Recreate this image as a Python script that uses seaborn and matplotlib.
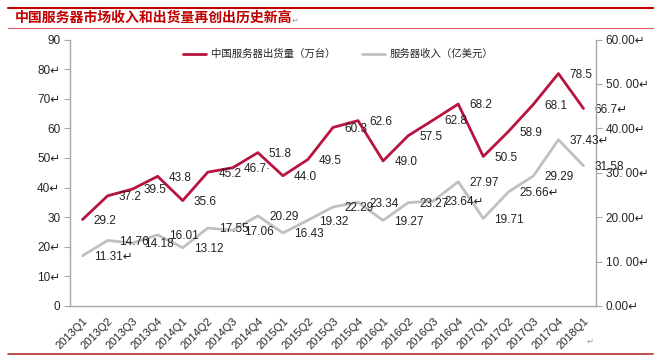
import numpy as np
import pandas as pd
import matplotlib
matplotlib.use('Agg')
import matplotlib.pyplot as plt
import seaborn as sns

# data
quarters = ['2013Q1', '2013Q2', '2013Q3', '2013Q4', '2014Q1', '2014Q2', '2014Q3',
            '2014Q4', '2015Q1', '2015Q2', '2015Q3', '2015Q4', '2016Q1', '2016Q2',
            '2016Q3', '2016Q4', '2017Q1', '2017Q2', '2017Q3', '2017Q4', '2018Q1']
shipments = [29.2, 37.2, 39.5, 43.8, 35.6, 45.2, 46.7, 51.8, 44.0, 49.5, 60.3,
             62.6, 49.0, 57.5, 62.8, 68.2, 50.5, 58.9, 68.1, 78.5, 66.7]
revenue = [11.31, 14.76, 14.18, 16.01, 13.12, 17.55, 17.06, 20.29, 16.43, 19.32, 22.29,
           23.34, 19.27, 23.27, 23.64, 27.97, 19.71, 25.66, 29.29, 37.43, 31.58]
ship_labels = ['29.2', '37.2', '39.5', '43.8', '35.6', '45.2', '46.7\u00b7', '51.8', '44.0',
               '49.5', '60.3', '62.6', '49.0', '57.5', '62.8', '68.2', '50.5', '58.9',
               '68.1', '78.5', '66.7\u21b5']
rev_labels = ['11.31\u21b5', '14.76', '14.18', '16.01', '13.12', '17.55', '17.06', '20.29',
              '16.43', '19.32', '22.29', '23.34', '19.27', '23.27', '23.64\u21b5', '27.97',
              '19.71', '25.66\u21b5', '29.29', '37.43\u21b5', '31.58']
left_ticks = [0, 10, 20, 30, 40, 50, 60, 70, 80, 90]
left_ticklabels = ['0', '10\u21b5', '20\u21b5', '30', '40\u21b5', '50\u21b5', '60', '70\u21b5', '80\u21b5', '90']
right_ticks = [0, 10, 20, 30, 40, 50, 60]
right_ticklabels = ['0.00\u21b5', '10. 00\u21b5', '20.00\u21b5', '30. 00\u21b5', '40.00\u21b5',
                    '50. 00\u21b5', '60.00\u21b5']

title = '中国服务器市场收入和出货量再创出历史新高'
name_ship = '中国服务器出货量（万台）'
name_rev = '服务器收入（亿美元）'

red = '#B8143F'
gray = '#C0C0C0'
spine_c = '#A6A6A6'

sns.set_style('white')
plt.rcParams['font.family'] = ['Liberation Sans', 'Noto Sans CJK SC', 'DejaVu Sans']

df = pd.DataFrame({'pos': np.arange(len(quarters)), 'quarter': quarters,
                   'shipments': shipments, 'revenue': revenue})

fig = plt.figure(figsize=(6.65, 3.63), dpi=100)
W, H = 665, 363
ax = fig.add_axes([70 / W, (H - 306) / H, 526 / W, 266.5 / H])
ax2 = ax.twinx()

sns.lineplot(data=df, x='pos', y='shipments', ax=ax, color=red, linewidth=2,
             label=name_ship, legend=False)
sns.lineplot(data=df, x='pos', y='revenue', ax=ax2, color=gray, linewidth=2,
             label=name_rev, legend=False)

ax.set_xlim(-0.5, len(quarters) - 0.5)
ax.set_ylim(0, 90)
ax2.set_ylim(0, 60)

for a in (ax, ax2):
    a.set_xlabel('')
    a.set_ylabel('')
    for s in a.spines.values():
        s.set_color(spine_c)
        s.set_linewidth(1)
    a.spines['top'].set_visible(False)

ax.spines['right'].set_visible(False)
ax2.spines['left'].set_visible(False)
ax2.spines['bottom'].set_visible(False)

ax.set_xticks(df['pos'])
ax.set_xticklabels(quarters, rotation=45, ha='right', rotation_mode='anchor', fontsize=8)
ax.set_xticks(np.arange(-0.5, len(quarters), 1), minor=True)
ax.tick_params(axis='x', which='major', length=0, pad=7)
ax.tick_params(axis='x', which='minor', length=4, color=spine_c, direction='out')
ax.set_yticks(left_ticks)
ax.set_yticklabels(left_ticklabels, fontsize=8.5)
ax.tick_params(axis='y', length=4, color=spine_c, direction='out', pad=3, left=True)
ax2.set_yticks(right_ticks)
ax2.set_yticklabels(right_ticklabels, fontsize=8.5)
ax2.tick_params(axis='y', length=4, color=spine_c, direction='out', pad=3, right=True)
ax.grid(False)
ax2.grid(False)

for x, y, t in zip(df['pos'], shipments, ship_labels):
    ax.annotate(t, (x, y), xytext=(8, -1), textcoords='offset points',
                ha='left', va='center', fontsize=8.5, color='#222222')
for x, y, t in zip(df['pos'], revenue, rev_labels):
    ax2.annotate(t, (x, y), xytext=(8, -1), textcoords='offset points',
                 ha='left', va='center', fontsize=8.5, color='#222222')

h1, l1 = ax.get_legend_handles_labels()
h2, l2 = ax2.get_legend_handles_labels()
ax.legend(h1 + h2, l1 + l2, loc='upper center', bbox_to_anchor=(0.51, 1.0), ncol=2,
          frameon=False, handlelength=2.2, handletextpad=0.5,
          columnspacing=2.5, prop={'family': ['Noto Sans CJK SC'], 'size': 7.5})

# title band with red rules
fig.add_artist(plt.Line2D([8 / W, 653 / W], [1 - 8 / H, 1 - 8 / H], color='#C00000', linewidth=1.5))
fig.add_artist(plt.Line2D([8 / W, 653 / W], [1 - 28 / H, 1 - 28 / H], color='#D9595E', linewidth=0.8))
fig.add_artist(plt.Line2D([8 / W, 653 / W], [1 - 354 / H, 1 - 354 / H], color='#B03030', linewidth=1.2))
fig.text(15 / W, 1 - 18 / H, title, color='#C00000', fontsize=10, fontweight='bold',
         va='center', ha='left', family=['Noto Sans CJK SC'])
fig.text(292 / W, 1 - 20 / H, '\u21b5', color='#999999', fontsize=6, va='center', family=['DejaVu Sans'])
fig.text(587 / W, 1 - 341 / H, '\u21b5', color='#999999', fontsize=6, va='center', family=['DejaVu Sans'])

fig.savefig('out.png', dpi=100)
